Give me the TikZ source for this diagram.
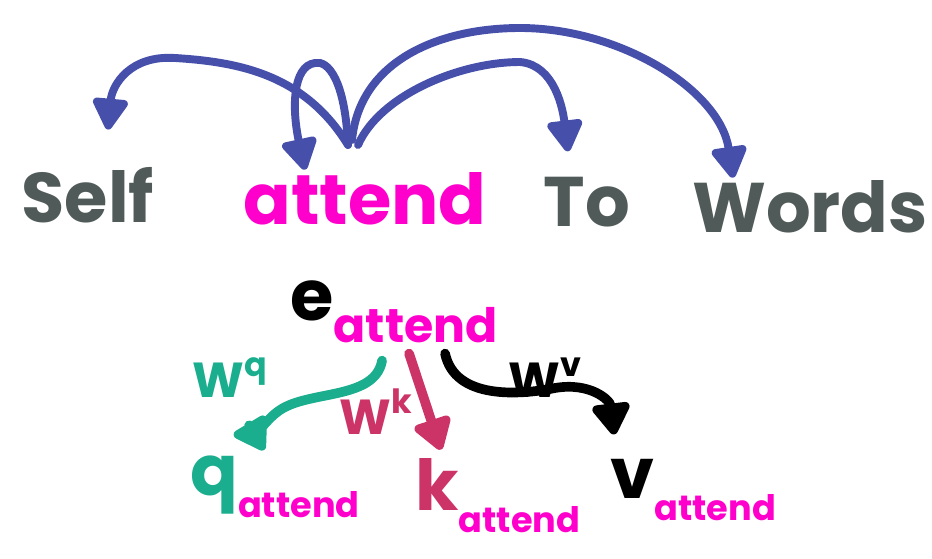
\documentclass[tikz,border=0pt]{standalone}
\usepackage{fontspec}
\setmainfont{Poppins}
\usetikzlibrary{arrows.meta,calc}

\definecolor{attnblue}{RGB}{70,80,170}
\definecolor{wordgray}{RGB}{80,90,88}
\definecolor{attendpink}{RGB}{255,0,204}
\definecolor{qteal}{RGB}{26,174,142}
\definecolor{kred}{RGB}{204,51,102}

\newcommand{\subattend}[1][20]{\raisebox{-13pt}{\fontsize{#1}{#1}\selectfont\color{attendpink}attend}}
\newcommand{\wmat}[1]{W\raisebox{12pt}{\fontsize{19}{19}\selectfont #1}}

\tikzset{
	word/.style={anchor=base, inner sep=0pt, font=\fontsize{40}{40}\selectfont\bfseries},
	vecnode/.style={anchor=base west, inner sep=0pt, font=\fontsize{40}{40}\selectfont\bfseries},
	wlabel/.style={inner sep=0pt, font=\fontsize{28}{28}\selectfont\bfseries},
	attn/.style={attnblue, line width=4.5pt, line cap=round, -{Triangle[length=20pt,width=22pt,round]}},
	proj/.style={line width=5.5pt, line cap=round, -{Triangle[length=20pt,width=24pt,round]}},
}

\begin{document}
\begin{tikzpicture}[x=0.02cm, y=-0.02cm]
	\useasboundingbox (0,0) rectangle (932,558);
	% the sentence
	\node[word, wordgray] (self) at (88,222) {Self};
	\node[word, attendpink] (attend) at (365,224) {attend};
	\node[word, wordgray] (to) at (587,226) {To};
	\node[word, wordgray] (words) at (810,232) {Words};
	\coordinate (hub) at (348,145);
	% attention arcs
	\draw[attn] (hub) .. controls (305,75) and (240,62) .. (175,58) .. controls (130,55) and (112,85) .. ($(self.north)+(20,-37)$);
	\draw[attn] (hub) .. controls (345,80) and (328,60) .. (315,63) .. controls (292,66) and (292,110) .. ($(attend.north)+(-60,-2)$);
	\draw[attn] ($(hub)+(10,0)$) .. controls (380,95) and (460,62) .. (520,62) .. controls (555,65) and (563,110) .. ($(to.north)+(-19,-25)$);
	\draw[attn] ($(hub)+(4,-5)$) .. controls (360,60) and (440,28) .. (520,28) .. controls (620,28) and (720,90) .. ($(words.north)+(-77,-2)$);
	% projections
	\node[vecnode] (e) at (290,320) {e\subattend[27]};
	\node[vecnode, qteal] (q) at (190,495) {q\subattend};
	\node[vecnode, kred] (k) at (415,510) {k\subattend};
	\node[vecnode] (v) at (610,498) {v\subattend};
	\draw[proj, qteal] ($(e.south)+(-12,17)$) .. controls (375,400) and (310,390) .. (280,410) .. controls (262,422) and (258,440) .. ($(q.north)+(-11,-5)$);
	\draw[proj, kred] ($(e.south)+(15,10)$) -- ($(k.north)+(-57,-8)$);
	\draw[proj] ($(e.south)+(51,10)$) .. controls (455,400) and (520,395) .. (555,388) .. controls (590,382) and (610,400) .. ($(v.north)+(-79,-24)$);
	\node[wlabel, qteal] (wq) at (230,378) {\wmat{q}};
	\node[wlabel, kred] (wk) at (376,412) {\wmat{k}};
	\node[wlabel] (wv) at (545,378) {\wmat{v}};
\end{tikzpicture}
\end{document}
